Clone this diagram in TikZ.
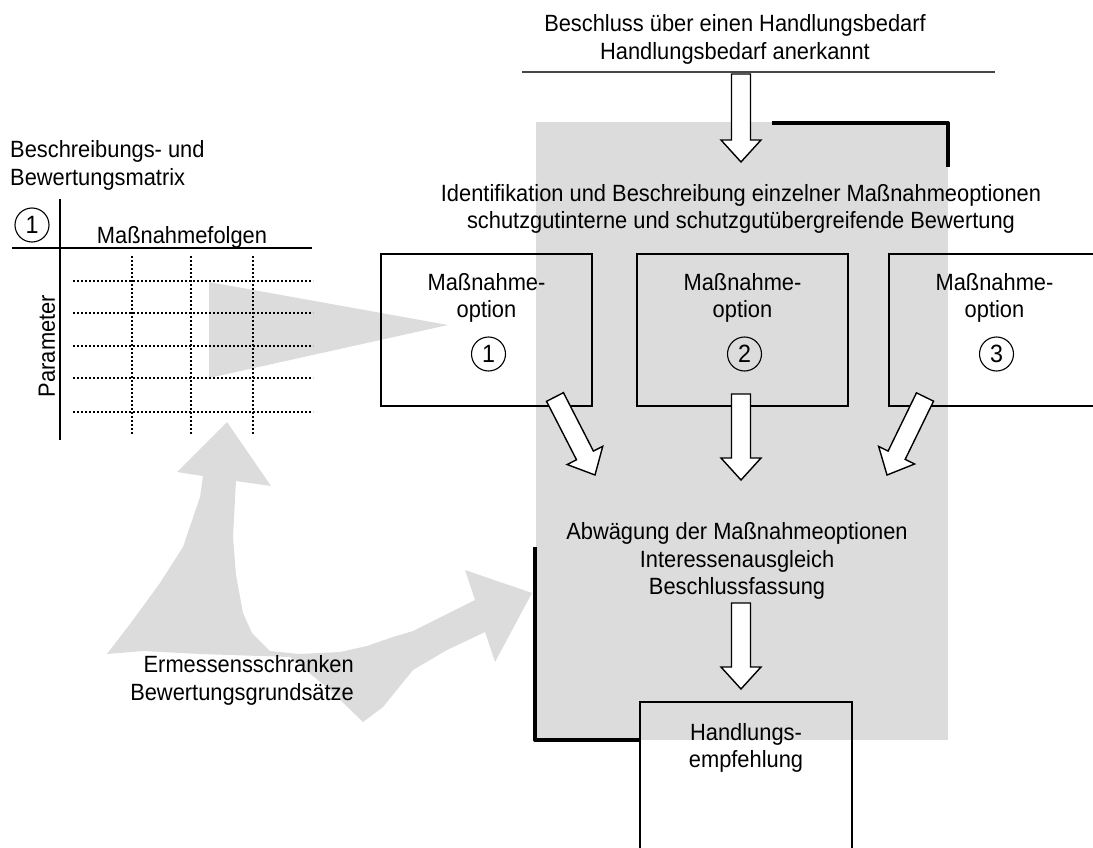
\documentclass[tikz,border=0pt]{standalone}
\usepackage{fontspec}
\setmainfont{Liberation Sans}[FakeStretch=0.93]
\usetikzlibrary{calc}

\definecolor{areagray}{RGB}{220,220,220}
\definecolor{rulegray}{RGB}{70,70,70}

\tikzset{
  txt/.style={font=\fontsize{23.5pt}{27.5pt}\selectfont, inner sep=0pt, align=center},
  optbox/.style={draw, line width=1.4pt, minimum width=211pt, minimum height=152pt, inner sep=0pt},
  numcirc/.style={draw, circle, line width=1.1pt, minimum size=34pt, inner sep=0pt,
                  font=\fontsize{25pt}{28pt}\selectfont},
  arrowbody/.style={draw, fill=white, line width=1.4pt, line join=miter},
  boldline/.style={line width=4pt, line join=round},
  dotgrid/.style={line width=1.8pt, dash pattern=on 1.8pt off 2.2pt},
  axisline/.style={line width=1.8pt},
}

% hollow block arrow from #1 (tail) to #2 (tip)
\newcommand\blockarrow[2]{%
  \coordinate (ba-h) at ($(#2)!22pt!(#1)$);
  \draw[arrowbody]
    ($(#1)!9.5pt!90:(#2)$) -- ($(ba-h)!9.5pt!-90:(#1)$) -- ($(ba-h)!20pt!-90:(#1)$)
    -- (#2) -- ($(ba-h)!20pt!90:(#1)$) -- ($(ba-h)!9.5pt!90:(#1)$)
    -- ($(#1)!9.5pt!-90:(#2)$) -- cycle;}

\begin{document}
\begin{tikzpicture}[x=1pt,y=-1pt]
\useasboundingbox (0,0) rectangle (1093,848);
\clip (0,0) rectangle (1093,848);

% shaded process area
\fill[areagray] (536,122) rectangle (948,740);

% wedge from the matrix towards option 1
\fill[areagray] (209,282) -- (448,325) -- (209,378) -- cycle;

% bent double arrow: value limits feeding the matrix and the weighing
\fill[areagray] (227,422) -- (271,486) -- (236,481) -- (233,537) -- (236,575) -- (243,613)
  -- (252,633) -- (270,651) -- (300,654) -- (340,652) -- (367,646) -- (393,637)
  -- (413,631) -- (435,620) -- (475,600) -- (465,570) -- (532,593) -- (495,662)
  -- (485,632) -- (447,650) -- (413,670) -- (383,707) -- (363,722) -- (330,690)
  -- (290,657) -- (200,654) -- (143,651) -- (107,654) -- (133,620) -- (160,583)
  -- (183,547) -- (200,497) -- (203,476) -- (177,472) -- cycle;

% ---- description and evaluation matrix ----
\foreach \yy in {281,313,346,378,412}
  \draw[dotgrid] (73,\yy) -- (313,\yy);
\foreach \xx in {132,191,253}
  \draw[dotgrid] (\xx,256) -- (\xx,435);
\draw[axisline] (60,199) -- (60,440);
\draw[axisline] (12,248) -- (312,248);
\node[numcirc] (m1) at (32,225) {1};
\node[txt, anchor=west, align=left] (mtitle) at (10,165.5) {Beschreibungs- und\\Bewertungsmatrix};
\node[txt] (mcols) at (182,237.5) {Maßnahmefolgen};
\node[txt, rotate=90] (mrows) at (47,346) {Parameter};

% ---- top decision ----
\node[txt] (decision) at (735,39.5) {Beschluss über einen Handlungsbedarf\\Handlungsbedarf anerkannt};
\coordinate (ruleL) at (522,72);
\coordinate (ruleR) at (995,72);
\draw[rulegray, line width=1.4pt] (ruleL) -- (ruleR);

\node[txt] (ident) at (741,209) {Identifikation und Beschreibung einzelner Maßnahmeoptionen\\schutzgutinterne und schutzgutübergreifende Bewertung};

% ---- option boxes ----
\node[optbox] (o1) at (486.5,330) {};
\node[optbox] (o2) at (742.5,330) {};
\node[optbox] (o3) at (994.5,330) {};
\foreach \b in {1,2,3}{
  \node[txt] (o\b-t) at ($(o\b.center)+(0,-32)$) {Maßnahme-\\option};
  \node[numcirc] (o\b-n) at ($(o\b.center)+(2,24)$) {\b};
}

% ---- weighing ----
\node[txt] (weigh) at (737,561) {Abwägung der Maßnahmeoptionen\\Interessenausgleich\\Beschlussfassung};

% ---- recommendation ----
\node[draw, line width=1.4pt, minimum width=212pt, minimum height=200pt, inner sep=0pt] (rec) at (746,802) {};
\node[txt] (rec-t) at (746,748) {Handlungs-\\empfehlung};

% ---- value limits ----
\node[txt, anchor=east, align=right] (limits) at (354,680.5) {Ermessensschranken\\Bewertungsgrundsätze};

% ---- bold feedback brackets ----
\coordinate (brA) at (772,123);
\coordinate (brB) at (948,123);
\coordinate (brC) at (948,167);
\draw[boldline] (brA) -- (brB) -- (brC);
\coordinate (blA) at (535,547);
\coordinate (blB) at (535,740);
\draw[boldline] (blA) -- (blB) -- (blB -| rec.west);

% ---- hollow flow arrows ----
\coordinate (a0s) at (741,74);   \coordinate (a0e) at (741,162);
\coordinate (a1s) at (555,397);  \coordinate (a1e) at (595,475);
\coordinate (a2s) at (741,394);  \coordinate (a2e) at (741,480);
\coordinate (a3s) at (925,397);  \coordinate (a3e) at (887,475);
\coordinate (a4s) at (741,603);  \coordinate (a4e) at (741,689);
\blockarrow{a0s}{a0e}
\blockarrow{a1s}{a1e}
\blockarrow{a2s}{a2e}
\blockarrow{a3s}{a3e}
\blockarrow{a4s}{a4e}

\end{tikzpicture}
\end{document}
